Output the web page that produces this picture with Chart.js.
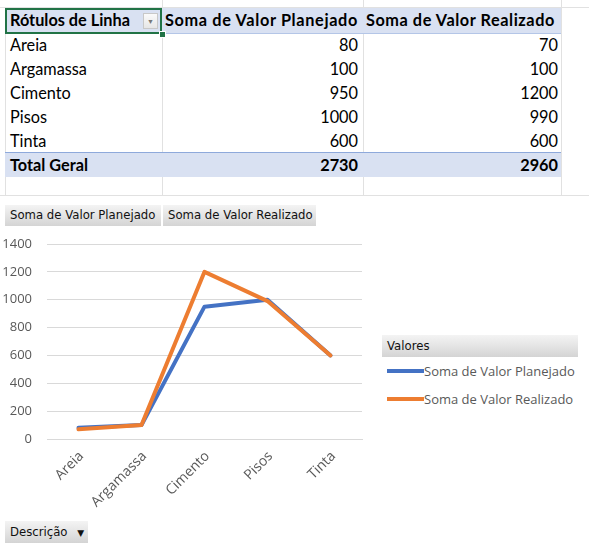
<!DOCTYPE html>
<html><head><meta charset="utf-8">
<script src="https://cdn.jsdelivr.net/npm/chart.js@4/dist/chart.umd.min.js"></script>
<style>
html,body{margin:0;padding:0;background:#fff;width:589px;height:549px;overflow:hidden;position:relative;font-family:Lato,"Open Sans",sans-serif;}
.abs{position:absolute;}
.vl{position:absolute;width:1px;background:#e1e1e1;}
.hl{position:absolute;height:1px;background:#e1e1e1;}
.cell{position:absolute;height:24px;line-height:24px;font-size:16.3px;color:#000;white-space:nowrap;}
.btn{position:absolute;height:21px;line-height:21px;font-family:"DejaVu Sans",sans-serif;font-size:11.7px;color:#111;background:linear-gradient(#f4f4f4,#d4d4d4);padding-left:5px;box-sizing:border-box;white-space:nowrap;}
.leg{position:absolute;font-family:"Open Sans",sans-serif;font-size:13px;color:#595959;white-space:nowrap;}
</style></head>
<body>
<div id="sheet"></div>
<div class="abs" style="left:0;top:232px;width:372px;height:288px;"><canvas id="c" width="372" height="288"></canvas></div>
<div class="btn" style="left:5px;top:205px;width:156px;">Soma de Valor Planejado</div>
<div class="btn" style="left:163px;top:205px;width:153px;">Soma de Valor Realizado</div>
<div class="btn" style="left:382px;top:335px;width:196px;height:22px;line-height:22px;">Valores</div>
<div id="legend"></div>
<div class="btn" style="left:5px;top:521px;width:83px;height:22px;line-height:22px;">Descrição <span style="font-size:9px;margin-left:6px;">&#9660;</span></div>
<script>
const categories = ["Areia","Argamassa","Cimento","Pisos","Tinta"];
const planejado = [80,100,950,1000,600];
const realizado = [70,100,1200,990,600];
const seriesNames = ["Soma de Valor Planejado","Soma de Valor Realizado"];
const seriesColors = ["#4472C4","#ED7D31"];
const yTicks = [0,200,400,600,800,1000,1200,1400];
const headerLabel = "Rótulos de Linha";
const totalLabel = "Total Geral";

// ---- pivot table ----
const sheet = document.getElementById('sheet');
function add(html){ sheet.insertAdjacentHTML('beforeend', html); }
const top0 = 8, rowH = 24;
[162,363,561].forEach(x=>add(`<div class="vl" style="left:${x}px;top:0;height:196px;"></div>`));
add(`<div class="vl" style="left:5px;top:33px;height:163px;"></div>`);
add(`<div class="hl" style="left:0;top:${top0-1}px;width:589px;"></div>`);
add(`<div class="hl" style="left:0;top:195px;width:589px;"></div>`);
add(`<div class="abs" style="left:5px;top:${top0}px;width:556px;height:25px;background:#d9e1f2;"></div>`);
add(`<div class="abs" style="left:5px;top:${top0+25}px;width:556px;height:1px;background:#b4c6e7;"></div>`);
add(`<div class="cell" style="left:10px;top:${top0}px;font-weight:bold;">${headerLabel}</div>`);
add(`<div class="cell" style="left:165px;top:${top0}px;font-weight:bold;letter-spacing:0.65px;">${seriesNames[0]}</div>`);
add(`<div class="cell" style="left:366px;top:${top0}px;font-weight:bold;letter-spacing:0.55px;">${seriesNames[1]}</div>`);
add(`<div class="abs" style="left:143px;top:13px;width:15px;height:16px;background:linear-gradient(#fafafa,#e6e6e6);border:1px solid #c8c8c8;box-sizing:border-box;font-size:7px;color:#777;text-align:center;line-height:15px;">&#9660;</div>`);
add(`<div class="abs" style="left:5px;top:${top0}px;width:157px;height:26px;border:2px solid #217346;box-sizing:border-box;"></div>`);
add(`<div class="abs" style="left:159px;top:31px;width:5px;height:5px;background:#217346;border:1px solid #fff;"></div>`);
categories.forEach((c,i)=>{
  const y = top0+25+i*rowH;
  add(`<div class="cell" style="left:10px;top:${y}px;">${c}</div>`);
  add(`<div class="cell" style="left:162px;width:196px;text-align:right;top:${y}px;">${planejado[i]}</div>`);
  add(`<div class="cell" style="left:363px;width:195px;text-align:right;top:${y}px;">${realizado[i]}</div>`);
});
const sum = a=>a.reduce((s,v)=>s+v,0);
const ty = top0+25+categories.length*rowH;
add(`<div class="abs" style="left:5px;top:${ty}px;width:556px;height:24px;background:#d9e1f2;"></div>`);
add(`<div class="abs" style="left:5px;top:${ty-1}px;width:556px;height:1px;background:#8ea9db;"></div>`);
add(`<div class="cell" style="left:10px;top:${ty}px;font-weight:bold;">${totalLabel}</div>`);
add(`<div class="cell" style="left:162px;width:196px;text-align:right;top:${ty}px;font-weight:bold;">${sum(planejado)}</div>`);
add(`<div class="cell" style="left:363px;width:195px;text-align:right;top:${ty}px;font-weight:bold;">${sum(realizado)}</div>`);

// ---- legend ----
const leg = document.getElementById('legend');
seriesNames.forEach((n,i)=>{
  const y = 371 + i*28;
  leg.insertAdjacentHTML('beforeend', `<div class="abs" style="left:387px;top:${y-2}px;width:37px;height:4px;background:${seriesColors[i]};"></div><div class="leg" style="left:424px;top:${y-10}px;line-height:20px;">${n}</div>`);
});

// ---- chart ----
new Chart(document.getElementById('c'), {
  type: 'line',
  data: {
    labels: categories,
    datasets: [
      {label: seriesNames[0], data: planejado, borderColor: seriesColors[0], backgroundColor: seriesColors[0], borderWidth: 4, pointRadius: 0, tension: 0, order: 1, borderJoinStyle:'round', borderCapStyle:'round'},
      {label: seriesNames[1], data: realizado, borderColor: seriesColors[1], backgroundColor: seriesColors[1], borderWidth: 4, pointRadius: 0, tension: 0, order: 0, borderJoinStyle:'round', borderCapStyle:'round'}
    ]
  },
  options: {
    responsive: false,
    animation: false,
    devicePixelRatio: 1,
    layout: {padding: {top: 12, right: 10, left: 0, bottom: 0}},
    plugins: {legend: {display: false}, tooltip: {enabled: false}},
    scales: {
      x: {
        offset: true,
        grid: {display: false, drawTicks: false},
        border: {display: true, color: '#d9d9d9', width: 1},
        ticks: {color: '#595959', font: {family: 'Open Sans', size: 14}, minRotation: 45, maxRotation: 45, padding: 9, labelOffset: 3, autoSkip: false},
        afterFit: s => { s.height = 81; s.paddingRight = 0; s.paddingLeft = 0; }
      },
      y: {
        min: 0, max: 1400,
        afterBuildTicks: s => { s.ticks = yTicks.map(v => ({value: v})); },
        grid: {color: '#d9d9d9', drawTicks: false},
        border: {display: false},
        ticks: {color: '#595959', font: {family: 'Open Sans', size: 13}, padding: 15, callback: v => String(v)},
        afterFit: s => { s.width = 47; s.paddingTop = 0; s.paddingBottom = 0; }
      }
    }
  }
});
</script>
</body></html>
